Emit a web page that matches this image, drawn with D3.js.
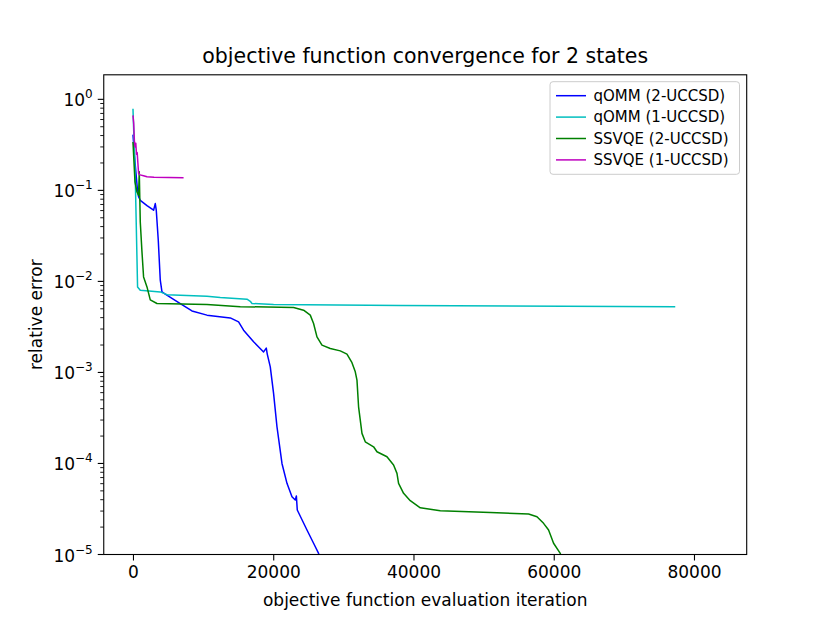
<!DOCTYPE html>
<html>
<head>
<meta charset="utf-8">
<script src="https://cdn.jsdelivr.net/npm/d3@7"></script>
<style>
  body { margin: 0; background: #fff; }
  text { font-family: "DejaVu Sans", sans-serif; fill: #000; }
</style>
</head>
<body>
<script>
const width = 830;
const height = 623;
const margin = { top: 74.8, right: 83.3, bottom: 68.5, left: 103.75 };

const seriesNames = ["qOMM (2-UCCSD)", "qOMM (1-UCCSD)", "SSVQE (2-UCCSD)", "SSVQE (1-UCCSD)"];
const seriesColors = ["#0000ff", "#00bfbf", "#008000", "#bf00bf"];

// [iteration, relative error]
const qommTwo = [
  [0, 0.41], [300, 0.2], [600, 0.11], [800, 0.085], [1041, 0.0778], [2000, 0.068],
  [2938, 0.0605], [3180, 0.0716], [3322, 0.0605], [3608, 0.0283], [3893, 0.0103],
  [4135, 0.00767], [4606, 0.00724], [6745, 0.00571], [8413, 0.00474], [10552, 0.00426],
  [13875, 0.00397], [15059, 0.00359], [15772, 0.00291], [17198, 0.00217], [18624, 0.00168],
  [19009, 0.00185], [19150, 0.00159], [19579, 0.00115], [20050, 5.88e-4], [20534, 2.53e-4],
  [21247, 1.0e-4], [21960, 6.05e-5], [22673, 4.31e-5], [23144, 3.97e-5], [23300, 4.4e-5],
  [23430, 3.08e-5], [24812, 1.86e-5], [25754, 1.33e-5], [26467, 1.03e-5], [26710, 8.7e-6]
];
const qommOne = [
  [0, 0.79], [330, 0.135], [656, 0.0087], [1041, 0.008], [3893, 0.00767], [4848, 0.00715],
  [10552, 0.00688], [12449, 0.00666], [16256, 0.00638], [16727, 0.00605], [16969, 0.00572],
  [20050, 0.00558], [38117, 0.00544], [77330, 0.00528]
];
const ssvqeTwo = [
  [0, 0.34], [285, 0.124], [570, 0.096], [799, 0.088], [898, 0.16], [1041, 0.045],
  [1283, 0.0211], [1512, 0.0112], [1996, 0.0087], [2467, 0.00626], [3422, 0.00572],
  [10552, 0.00558], [15301, 0.00528], [22902, 0.00517], [24328, 0.00483], [25283, 0.00426],
  [25754, 0.00345], [26238, 0.00246], [26951, 0.001995], [28134, 0.001834], [29561, 0.001726],
  [30516, 0.00159], [31229, 0.00128], [31700, 0.001016], [31942, 8.23e-4], [32171, 4.19e-4],
  [32656, 2.14e-4], [33126, 1.73e-4], [34310, 1.525e-4], [34794, 1.344e-4], [36220, 1.184e-4],
  [37162, 9.6e-5], [37646, 7.79e-5], [37875, 6.05e-5], [38588, 4.7e-5], [39543, 3.9e-5],
  [40969, 3.26e-5], [43821, 3.03e-5], [50951, 2.9e-5], [56413, 2.78e-5], [57610, 2.6e-5],
  [58552, 2.2e-5], [59265, 1.86e-5], [59978, 1.33e-5], [60933, 1.03e-5], [62000, 5e-6],
  [70000, 2e-6], [83350, 1e-6]
];
const ssvqeOne = [
  [0, 0.667], [100, 0.55], [200, 0.35], [300, 0.3], [400, 0.33], [500, 0.25], [600, 0.26],
  [700, 0.2], [800, 0.153], [1000, 0.148], [1500, 0.145], [2000, 0.141], [3000, 0.139],
  [7215, 0.138]
];
const allSeries = [qommTwo, qommOne, ssvqeTwo, ssvqeOne];

const xTicks = [0, 20000, 40000, 60000, 80000];
const yTickExps = [0, -1, -2, -3, -4, -5];
const yRange = [1e-5, 1.86];

const svg = d3.select("body").append("svg")
  .attr("width", width)
  .attr("height", height);

const xExtent = d3.extent(allSeries.flat(), d => d[0]);
const pad = (xExtent[1] - xExtent[0]) * 0.05;

const x = d3.scaleLinear()
  .domain([xExtent[0] - pad, xExtent[1] + pad])
  .range([margin.left, width - margin.right]);

const y = d3.scaleLog()
  .domain(yRange)
  .range([height - margin.bottom, margin.top]);

svg.append("clipPath").attr("id", "plot-clip")
  .append("rect")
  .attr("x", margin.left)
  .attr("y", margin.top)
  .attr("width", width - margin.left - margin.right)
  .attr("height", height - margin.top - margin.bottom);

const line = d3.line()
  .x(d => x(d[0]))
  .y(d => y(d[1]));

svg.append("g")
  .attr("clip-path", "url(#plot-clip)")
  .selectAll("path")
  .data(allSeries)
  .enter()
  .append("path")
  .attr("d", line)
  .attr("fill", "none")
  .attr("stroke", (d, i) => seriesColors[i])
  .attr("stroke-width", 1.5)
  .attr("stroke-linejoin", "round");

// x axis
const xAxis = svg.append("g")
  .attr("transform", "translate(0," + (height - margin.bottom) + ")")
  .call(d3.axisBottom(x).tickValues(xTicks).tickFormat(d3.format("d")).tickSize(6).tickPadding(5));
xAxis.select(".domain").remove();
xAxis.selectAll("line").attr("stroke", "#000").attr("stroke-width", 1.1);
xAxis.selectAll("text")
  .style("font-family", "DejaVu Sans")
  .style("font-size", "17px");

// y axis, major and minor ticks
const minorTicks = [];
for (let e = -5; e <= 0; e++) {
  for (let m = 1; m <= 9; m++) {
    const v = m * Math.pow(10, e);
    if (m > 1 && v >= yRange[0] && v <= yRange[1]) minorTicks.push(v);
  }
}
const yAxis = svg.append("g");
yAxis.selectAll(".minor")
  .data(minorTicks)
  .enter()
  .append("line")
  .attr("x1", margin.left - 3.5)
  .attr("x2", margin.left)
  .attr("y1", d => y(d))
  .attr("y2", d => y(d))
  .attr("stroke", "#000")
  .attr("stroke-width", 0.9);
yAxis.selectAll(".major")
  .data(yTickExps)
  .enter()
  .append("line")
  .attr("x1", margin.left - 6)
  .attr("x2", margin.left)
  .attr("y1", d => y(Math.pow(10, d)))
  .attr("y2", d => y(Math.pow(10, d)))
  .attr("stroke", "#000")
  .attr("stroke-width", 1.1);
const yLabels = yAxis.selectAll(".ylab")
  .data(yTickExps)
  .enter()
  .append("text")
  .attr("x", margin.left - 11)
  .attr("y", d => y(Math.pow(10, d)) + 7)
  .attr("text-anchor", "end")
  .style("font-size", "17px");
yLabels.append("tspan").text("10");
yLabels.append("tspan")
  .attr("dy", -8)
  .style("font-size", "12px")
  .text(d => (d < 0 ? "\u2212" + -d : String(d)));

// frame
svg.append("rect")
  .attr("x", margin.left)
  .attr("y", margin.top)
  .attr("width", width - margin.left - margin.right)
  .attr("height", height - margin.top - margin.bottom)
  .attr("fill", "none")
  .attr("stroke", "#000")
  .attr("stroke-width", 1.1);

// titles
svg.append("text")
  .attr("x", (margin.left + width - margin.right) / 2)
  .attr("y", 63)
  .attr("text-anchor", "middle")
  .style("font-size", "20.5px")
  .text("objective function convergence for 2 states");

svg.append("text")
  .attr("x", (margin.left + width - margin.right) / 2)
  .attr("y", 606)
  .attr("text-anchor", "middle")
  .style("font-size", "17px")
  .text("objective function evaluation iteration");

svg.append("text")
  .attr("transform", "translate(42," + (margin.top + height - margin.bottom) / 2 + ")rotate(-90)")
  .attr("text-anchor", "middle")
  .style("font-size", "17px")
  .text("relative error");

// legend
const legend = svg.append("g");
legend.append("rect")
  .attr("x", 550)
  .attr("y", 81.7)
  .attr("width", 189.5)
  .attr("height", 92.6)
  .attr("rx", 3)
  .attr("fill", "#fff")
  .attr("fill-opacity", 0.8)
  .attr("stroke", "#cccccc")
  .attr("stroke-width", 1);
const rows = legend.selectAll(".row")
  .data(seriesNames)
  .enter()
  .append("g")
  .attr("transform", (d, i) => "translate(0," + (95.7 + i * 21.4) + ")");
rows.append("line")
  .attr("x1", 556)
  .attr("x2", 586)
  .attr("stroke", (d, i) => seriesColors[i])
  .attr("stroke-width", 1.5);
rows.append("text")
  .attr("x", 593.5)
  .attr("y", 5.3)
  .style("font-size", "15px")
  .text(d => d);
</script>
</body>
</html>
